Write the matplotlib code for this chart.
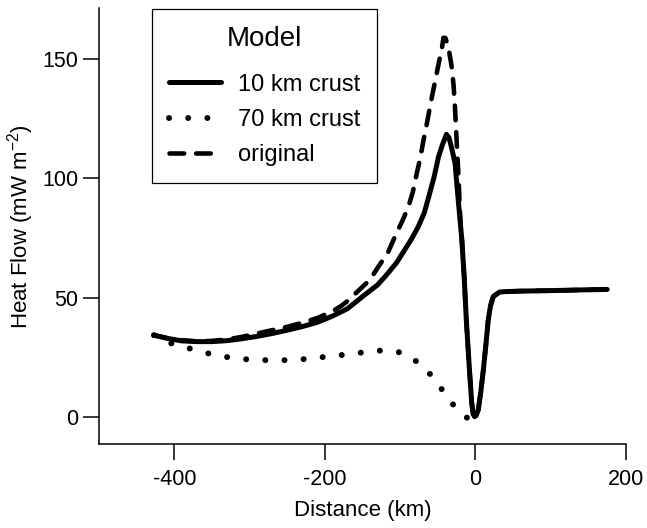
import matplotlib
matplotlib.use("Agg")
import matplotlib.pyplot as plt

plt.rcParams["font.family"] = ["Liberation Sans", "DejaVu Sans"]
plt.rcParams["mathtext.fontset"] = "custom"
plt.rcParams["mathtext.rm"] = "Liberation Sans"
plt.rcParams["axes.unicode_minus"] = False

# 10 km crust (solid)
dist_10 = [-427, -410, -390, -370, -350, -330, -310, -290, -270, -250, -230, -210,
           -190, -170, -150, -130, -120, -105, -94, -85, -76, -68, -62, -55, -49,
           -44, -38.5, -35, -31, -27, -24, -20, -18, -15, -12, -8, -5, -3, -1, 1,
           3.7, 7, 10.5, 14, 17, 20, 23.7, 32, 40, 60, 100, 140, 175]
heat_10 = [34.2, 32.9, 31.8, 31.5, 31.5, 31.9, 32.7, 33.7, 34.9, 36.3, 37.8, 39.6,
           42.2, 45.3, 50.4, 55.3, 58.8, 64.5, 70.0, 74.5, 79.7, 85.5, 92.3, 100.5, 109.1,
           114.0, 118.5, 117.0, 112.0, 106.3, 95.0, 81.0, 74.0, 59.0, 40.0, 20.0, 6.0, 1.0, 0.0, 0.5,
           2.8, 10.0, 19.6, 30.5, 40.6, 46.5, 50.4, 52.3, 52.5, 52.7, 52.9, 53.2, 53.4]

# original (dashed)
dist_orig = [-427, -400, -370, -350, -330, -310, -290, -270, -250, -230, -210, -190,
             -179, -170, -155, -140, -129, -116, -107, -98, -89, -83, -78, -73, -69,
             -64.5, -60.4, -56, -51.5, -48, -44.8, -42.5, -40, -36, -31.6, -29, -27.2,
             -25, -22.7, -20, -18, -15, -12, -8, -5, -3, -1, 1,
             3.7, 7, 10.5, 14, 17, 20, 23.7, 32, 40, 60, 100, 140, 175]
heat_orig = [34.2, 32.3, 31.6, 31.8, 32.4, 33.5, 34.9, 36.3, 37.7, 39.4, 41.4, 44.2,
             46.3, 48.5, 53.0, 57.5, 62.9, 69.0, 75.5, 81.5, 88.1, 94.5, 102.0, 109.0, 116.0,
             123.0, 130.0, 137.0, 144.0, 149.5, 154.0, 159.0, 159.0, 155.3, 147.0, 139.0, 130.0,
             116.0, 102.0, 82.0, 74.0, 59.0, 40.0, 20.0, 6.0, 1.0, 0.0, 0.5,
             2.8, 10.0, 19.6, 30.5, 40.6, 46.5, 50.4, 52.3, 52.5, 52.7, 52.9, 53.2, 53.4]

# 70 km crust (dotted)
dist_70 = [-427, -402, -377, -353, -328, -302, -276, -251, -225, -200, -174, -149,
           -124, -100, -77, -59, -44, -28.5, -11, -3]
heat_70 = [34.2, 30.5, 28.4, 26.4, 24.9, 24.0, 23.7, 23.7, 24.2, 25.1, 26.0, 27.0,
           27.8, 27.0, 23.0, 17.5, 11.2, 4.6, -0.5, -0.5]

fig = plt.figure(figsize=(6.47, 5.28), dpi=100)
ax = fig.add_axes([99 / 647, 1 - 444.3 / 528, 527 / 647, 436 / 528])

ax.plot(dist_70, heat_70, color="black", lw=4.3, linestyle=(0, (0.01, 3.2)),
        dash_capstyle="round", label="70 km crust", zorder=2)
ax.plot(dist_orig, heat_orig, color="black", lw=3.3, linestyle=(0, (3.2, 2.6)),
        dash_capstyle="round", label="original", zorder=3)
ax.plot(dist_10, heat_10, color="black", lw=3.6, solid_capstyle="round",
        solid_joinstyle="round", label="10 km crust", zorder=4)

ax.set_xlim(-500, 200)
ax.set_ylim(-11.6, 171.4)
ax.set_xticks([-400, -200, 0, 200])
ax.set_yticks([0, 50, 100, 150])

for side in ["top", "right"]:
    ax.spines[side].set_visible(False)
for side in ["left", "bottom"]:
    ax.spines[side].set_linewidth(1.1)

ax.tick_params(direction="out", length=11.5, width=1.1, labelsize=15.5)
ax.tick_params(axis="x", pad=6.5)
ax.tick_params(axis="y", pad=3.2)

ax.set_xlabel("Distance (km)", fontsize=16, labelpad=7)
ax.set_ylabel("Heat Flow (mW m$^{\\mathregular{-2}}$)", fontsize=16, labelpad=5)

handles, labels = ax.get_legend_handles_labels()
order = [2, 0, 1]
leg = ax.legend([handles[i] for i in order], [labels[i] for i in order],
                title="Model", loc="upper left", bbox_to_anchor=(0.101, 0.998),
                borderaxespad=0, fontsize=17, title_fontsize=20,
                handlelength=2.2, handletextpad=0.7, borderpad=0.72,
                labelspacing=0.56, fancybox=False, framealpha=1)
leg.get_frame().set_edgecolor("black")
leg.get_frame().set_linewidth(0.9)
# a bit more room between the title and the entries
leg._legend_box.sep = 15.5

fig.savefig("out.png", dpi=100)
